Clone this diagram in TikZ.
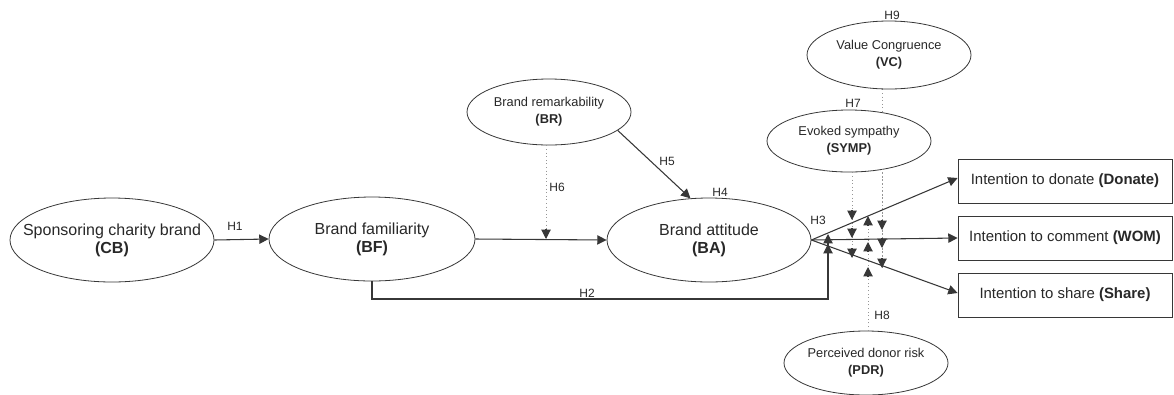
\documentclass[tikz,border=0pt]{standalone}
\usepackage{fontspec}
\setmainfont{Liberation Sans}
\usetikzlibrary{arrows.meta,shapes.geometric,backgrounds,calc}
\definecolor{ln}{RGB}{55,55,55}
\definecolor{txt}{RGB}{40,40,40}
\definecolor{dotc}{RGB}{150,150,150}
\newcommand\tipdn[2]{\draw[tipstyle] (#1,#2-10) -- (#1,#2);}
\newcommand\tipup[2]{\draw[tipstyle] (#1,#2+10) -- (#1,#2);}
\begin{document}
\begin{tikzpicture}[x=0.75pt,y=-0.75pt,
  every node/.style={text=txt},
  lv/.style={draw=ln, fill=white, ellipse, inner sep=0pt, line width=0.6pt},
  big/.style={ellipse, minimum width=153pt, minimum height=63pt},
  small/.style={minimum width=123pt, minimum height=48pt},
  bigtxt/.style={align=center, inner sep=0pt, font=\fontsize{12}{13.5}\selectfont, text=txt},
  smalltxt/.style={align=center, inner sep=0pt, font=\fontsize{9.6}{12.8}\selectfont, text=txt},
  outbox/.style={draw=ln, fill=white, line width=0.6pt, minimum width=160.5pt, minimum height=33pt, inner sep=0pt, font=\fontsize{11.2}{13}\selectfont},
  hlab/.style={font=\fontsize{9}{10}\selectfont, inner sep=0pt},
  arr/.style={draw=ln, line width=0.8pt, -{Triangle[length=7pt,width=7pt]}},
  dotl/.style={draw=dotc, line width=0.7pt, dotted},
  tipstyle/.style={draw=ln, line width=0.8pt, -{Triangle[length=7pt,width=7pt]}},
]
\useasboundingbox (0,0) rectangle (1174,394);

% latent variables
\node[lv,big,label={[bigtxt]center:{Sponsoring charity brand\\\textbf{(CB)}}}] (CB) at (112,240) {};
\node[lv,big,minimum width=154.5pt,label={[bigtxt]center:{Brand familiarity\\\textbf{(BF)}}}] (BF) at (372,239) {};
\node[lv,big,label={[bigtxt]center:{Brand attitude\\\textbf{(BA)}}}] (BA) at (709,240) {};
\node[lv,small,minimum height=49.5pt,label={[smalltxt]center:{Brand remarkability\\\textbf{(BR)}}}] (BR) at (549,112) {};
\node[lv,small,minimum height=51pt,label={[smalltxt]center:{Value Congruence\\\textbf{(VC)}}}] (VC) at (889,55) {};
\node[lv,small,minimum height=46.5pt,label={[smalltxt]center:{Evoked sympathy\\\textbf{(SYMP)}}}] (SYMP) at (849,141) {};
\node[lv,small,label={[smalltxt]center:{Perceived donor risk\\\textbf{(PDR)}}}] (PDR) at (866,363) {};

% outcome boxes
\node[outbox] (don) at (1065,181) {Intention to donate \textbf{(Donate)}};
\node[outbox] (wom) at (1065,238) {Intention to comment \textbf{(WOM)}};
\node[outbox] (shr) at (1065,295) {Intention to share \textbf{(Share)}};

% helper coordinates
\coordinate (h6t) at (546,239);
\coordinate (h2t) at (828,234);
\coordinate (sympt) at (852,258);
\coordinate (vct) at (882,268);
\coordinate (pdrt) at (868,216);

% dotted moderators (behind nodes)
\begin{pgfonlayer}{background}
\draw[dotl] ($(VC.south)+(-7,0)$) -- (vct);
\end{pgfonlayer}
\draw[dotl] (BR.south -| h6t) -- (h6t);
\draw[dotl] (SYMP.south -| sympt) -- (sympt);
\draw[dotl] (PDR.north -| pdrt) -- (pdrt);
\draw[dotl] (SYMP.south -| vct) ++(0,-3) -- (vct);

% main paths
\draw[arr] (CB.east) -- (BF.west);
\draw[arr] (BF.east) -- (BA.west);
\draw[arr] (BR.-15) -- (BA.114);
\draw[arr] (BF.south) |- ($(h2t)+(0,65)$) -- (h2t);
\draw[arr] (BA.east) -- ($(don.west)+(0,-3)$);
\draw[arr] (BA.east) -- (wom.west);
\draw[arr] (BA.east) -- ($(shr.west)+(0,-2)$);

% arrow heads of moderators
\tipdn{546}{239}
\tipup{828}{244}
\tipdn{852}{220}
\tipdn{852}{238}
\tipdn{852}{258}
\tipdn{882}{230}
\tipdn{882}{248}
\tipdn{882}{268}
\tipup{868}{216}
\tipup{868}{242}
\tipup{868}{267}

% hypothesis labels
\node[hlab] (lH1) at (235,226) {H1};
\node[hlab] (lH2) at (587,293) {H2};
\node[hlab] (lH3) at (818,220) {H3};
\node[hlab] (lH4) at (720,192) {H4};
\node[hlab] (lH5) at (667,161) {H5};
\node[hlab] (lH6) at (557,187) {H6};
\node[hlab] (lH7) at (853,103) {H7};
\node[hlab] (lH8) at (882,315) {H8};
\node[hlab] (lH9) at (892,15) {H9};
\end{tikzpicture}
\end{document}
